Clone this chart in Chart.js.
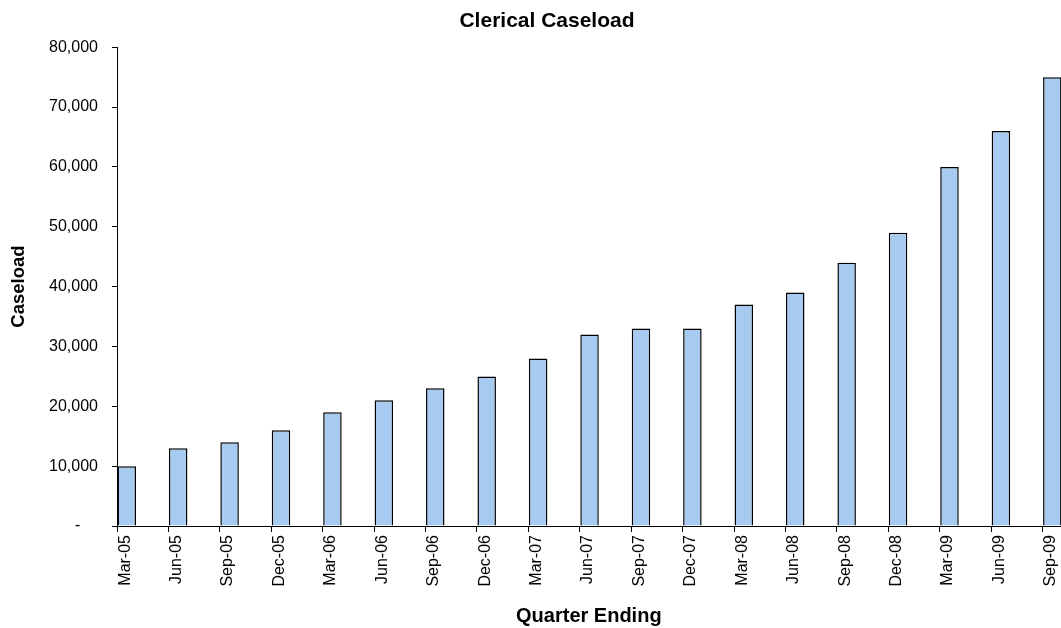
<!DOCTYPE html>
<html>
<head>
    <title>Clerical Caseload</title>
    <script src="https://cdn.jsdelivr.net/npm/chart.js"></script>
    <style>
        html, body { margin: 0; padding: 0; background: #fff; overflow: hidden; }
        #wrap { width: 1061px; height: 628px; overflow: hidden; }
    </style>
</head>
<body>
    <div id="wrap">
        <canvas id="caseloadChart" width="1094" height="628"></canvas>
    </div>
    <script>
        const quarters = ['Mar-05', 'Jun-05', 'Sep-05', 'Dec-05', 'Mar-06', 'Jun-06', 'Sep-06', 'Dec-06',
            'Mar-07', 'Jun-07', 'Sep-07', 'Dec-07', 'Mar-08', 'Jun-08', 'Sep-08', 'Dec-08',
            'Mar-09', 'Jun-09', 'Sep-09'];
        const caseload = [10000, 13000, 14000, 16000, 19000, 21000, 23000, 25000,
            28000, 32000, 33000, 33000, 37000, 39000, 44000, 49000,
            60000, 66000, 75000];
        const yTicks = [0, 10000, 20000, 30000, 40000, 50000, 60000, 70000, 80000];

        // empty series so the real bar sits at the left of each quarter, like the excel chart
        const spacer = quarters.map(() => null);

        const font = 'Liberation Sans, Arial, sans-serif';
        const catPct = 0.931, barPct = 1.16;

        new Chart(document.getElementById('caseloadChart').getContext('2d'), {
            type: 'bar',
            data: {
                labels: quarters,
                datasets: [
                    {
                        label: 'Caseload',
                        data: caseload,
                        backgroundColor: '#a6caf0',
                        borderColor: '#000000',
                        borderWidth: 1.5,
                        categoryPercentage: catPct,
                        barPercentage: barPct
                    },
                    { label: 'spacer1', data: spacer, categoryPercentage: catPct, barPercentage: barPct },
                    { label: 'spacer2', data: spacer, categoryPercentage: catPct, barPercentage: barPct }
                ]
            },
            options: {
                responsive: false,
                animation: false,
                layout: { padding: 0 },
                plugins: {
                    legend: { display: false },
                    tooltip: { enabled: false },
                    title: {
                        display: true,
                        text: 'Clerical Caseload',
                        color: '#000',
                        font: { family: font, size: 21, weight: 'bold' },
                        padding: { top: 9, bottom: 13 }
                    }
                },
                scales: {
                    x: {
                        offset: true,
                        border: { color: '#000', width: 1 },
                        grid: { offset: true, drawOnChartArea: false, color: '#000', tickLength: 6 },
                        ticks: {
                            color: '#000',
                            font: { family: font, size: 16 },
                            minRotation: 90,
                            maxRotation: 90,
                            autoSkip: false,
                            padding: 3,
                            labelOffset: -17.5
                        },
                        title: {
                            display: true,
                            // trailing spaces pull the centred title left to where excel had it
                            text: 'Quarter Ending      ',
                            color: '#000',
                            font: { family: font, size: 20, weight: 'bold' },
                            padding: { top: 4, bottom: 0 }
                        },
                        afterFit: (scale) => { scale.height = 102; }
                    },
                    y: {
                        min: 0,
                        max: 80000,
                        afterBuildTicks: (scale) => { scale.ticks = yTicks.map(v => ({ value: v })); },
                        border: { color: '#000', width: 1 },
                        grid: { drawOnChartArea: false, color: '#000', tickLength: 5 },
                        ticks: {
                            color: '#000',
                            font: { family: font, size: 16 },
                            padding: 14,
                            callback: (v) => v === 0 ? '-    ' : v.toLocaleString('en-US')
                        },
                        title: {
                            display: true,
                            text: 'Caseload',
                            color: '#000',
                            font: { family: font, size: 18.5, weight: 'bold' },
                            padding: { top: 8, bottom: 0 }
                        },
                        afterFit: (scale) => { scale.width = 117; }
                    }
                }
            }
        });
    </script>
</body>
</html>
